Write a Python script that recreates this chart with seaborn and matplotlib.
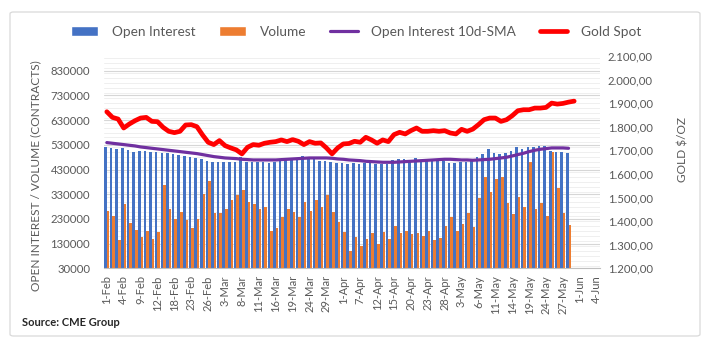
import numpy as np
import pandas as pd
import matplotlib
matplotlib.use("Agg")
import matplotlib.pyplot as plt
import seaborn as sns
from matplotlib.patches import Patch, FancyBboxPatch
from matplotlib.lines import Line2D
from matplotlib.ticker import FuncFormatter, FixedLocator, MultipleLocator

# ---------------- data ----------------
holidays = ["2021-02-15", "2021-04-02"]
dates = [d for d in pd.bdate_range("2021-02-01", "2021-06-04") if d.strftime("%Y-%m-%d") not in holidays]
categories = [f"{d.day}-{d.strftime('%b')}" for d in dates]          # 88 trading days
tick_labels = categories[::3]

open_interest = [
    523000, 516200, 512200, 516200, 508100, 502700, 505400, 504100, 502700, 500000, 498700,
    496000, 493300, 487900, 486500, 479800, 478400, 474300, 466200, 462200, 462200, 460800,
    460800, 462200, 479700, 462200, 460800, 460800, 459500, 458100, 460800, 474300, 474300,
    473000, 468900, 483800, 471600, 473000, 466200, 466200, 460800, 455400, 455400,
    454100, 455400, 452700, 455400, 455400, 452700, 452700, 452700, 470300, 471600, 471600,
    466200, 475700, 466200, 466200, 466200, 464900, 463500, 458100, 456800, 462200, 462200,
    464000, 482500, 491900, 512200, 496000, 493300, 498700, 506800, 523000, 514900, 520300,
    523000, 527000, 527000, 506800, 502700, 502700, 496000,
]
volume = [
    263600, 243300, 146100, 289300, 215000, 186600, 158200, 182500, 150100, 178500, 366300,
    269000, 231200, 259500, 227100, 194700, 231200, 329800, 385200, 252800, 252800,
    269000, 305500, 325700, 346000, 300100, 292000, 269000, 277100, 182500, 192000, 236600,
    271700, 256800, 236600, 297400, 263600, 305500, 277100, 325700, 256800, 216300, 175800,
    100800, 158200, 120400, 150100, 174400, 129800, 178500, 150100, 202800, 174400, 182500,
    170400, 174400, 162300, 182500, 146100, 154200, 202800, 239300, 182500, 210900, 255500,
    198700, 316300, 398700, 340600, 390600, 401400, 296000, 248700, 317600, 279800, 462200,
    271700, 293300, 243300, 502700, 356800, 252800, 204100,
]
oi_sma10 = [
    539200, 536500, 533800, 531100, 528400, 525700, 521600, 518900, 516200, 513500, 510800,
    508100, 505400, 502700, 500000, 497300, 494600, 490600, 486500, 482500, 479800, 477000,
    475700, 474300, 471600, 470300, 468900, 468900, 468900, 468900, 468900, 470300, 471600,
    473000, 474300, 475700, 477000, 477000, 477000, 477000, 475700, 473000, 471600, 468900,
    467600, 466200, 463500, 462200, 460800, 459500, 459500, 459500, 460800, 462200, 463500,
    464900, 466200, 467600, 468900, 470300, 471600, 471600, 470300, 468900, 468900,
    467600, 468900, 470300, 471600, 474300, 477000, 479800, 485200, 490600, 496000, 502700,
    508100, 512200, 514900, 517600, 517600, 517600, 516200,
]
gold_spot = [
    1863.7, 1839.8, 1832.8, 1794.8, 1811.7, 1825.7, 1837.0, 1839.8, 1822.9, 1821.5, 1797.6,
    1780.7, 1775.1, 1780.7, 1807.5, 1808.9, 1800.4, 1765.3, 1734.3, 1724.5, 1741.4, 1720.0,
    1710.4, 1702.0, 1685.1, 1713.2, 1724.5, 1721.7, 1730.1, 1734.3, 1737.1, 1744.2, 1737.1,
    1745.6, 1738.5, 1724.5, 1737.1, 1730.1, 1731.5, 1710.4, 1685.1, 1710.4, 1727.3, 1729.0,
    1738.5, 1734.3, 1755.4, 1744.2, 1730.1, 1744.2, 1737.1, 1766.7, 1776.5, 1769.5, 1783.5,
    1794.8, 1780.7, 1780.7, 1783.5, 1780.7, 1783.5, 1773.7, 1769.5, 1789.2, 1780.7,
    1790.0, 1808.9, 1830.0, 1837.0, 1837.0, 1822.9, 1830.0, 1846.9, 1868.0, 1872.2, 1872.2,
    1879.2, 1879.2, 1882.0, 1900.3, 1896.1, 1898.9, 1904.5, 1908.7,
]

left_ticks = list(range(30000, 830001, 100000))
right_ticks = list(range(1200, 2101, 100))

# ---------------- style ----------------
BLUE, ORANGE, PURPLE, RED = "#4472C4", "#ED7D31", "#7030A0", "#FF0000"
TXT = "#595959"
sns.set_theme(style="white")
plt.rcParams["font.family"] = ["Lato", "DejaVu Sans"]

fig = plt.figure(figsize=(7.10, 3.45), dpi=100)
ax = fig.add_axes([104 / 710, 1 - 268.3 / 345, (599.5 - 104) / 710, (268.3 - 56) / 345])

n = len(open_interest)
df = pd.DataFrame({
    "date": categories[:n] * 2,
    "value": open_interest + volume,
    "series": ["Open Interest"] * n + ["Volume"] * n,
})
sns.barplot(data=df, x="date", y="value", hue="series", order=categories,
            hue_order=["Open Interest", "Volume"], palette=[BLUE, ORANGE],
            width=0.92, saturation=1, linewidth=0, legend=False, ax=ax)
sns.lineplot(x=np.arange(len(oi_sma10)), y=oi_sma10, color=PURPLE, lw=2.3,
             ax=ax, solid_capstyle="round", solid_joinstyle="round")

ax.set_xlim(-0.5, len(categories) - 0.5)
ax.set_ylim(30000, 890000)
ax.yaxis.set_major_locator(FixedLocator(left_ticks))
ax.yaxis.set_minor_locator(MultipleLocator(20000))
ax.yaxis.grid(True, which="major", color="#d6d6d6", lw=0.8)
ax.yaxis.grid(True, which="minor", color="#efefef", lw=0.7)
ax.set_axisbelow(True)
ax.tick_params(axis="y", which="both", length=0, labelsize=8.2, labelcolor=TXT, pad=10)
ax.set_yticklabels([str(v) for v in left_ticks])

ax.set_xticks(range(0, len(categories), 3))
ax.set_xticklabels(tick_labels, rotation=90, fontsize=8, color=TXT)
ax.set_xticks(np.arange(-0.5, len(categories), 1), minor=True)
ax.tick_params(axis="x", which="major", length=0, pad=5)
ax.tick_params(axis="x", which="minor", length=3, color="#bfbfbf", width=0.7)
ax.set_xlabel("")
ax.set_ylabel("")
for s in ["left", "right", "top"]:
    ax.spines[s].set_visible(False)
ax.spines["bottom"].set_color("#bfbfbf")
ax.spines["bottom"].set_linewidth(0.8)

ax2 = ax.twinx()
sns.lineplot(x=np.arange(len(gold_spot)), y=gold_spot, color=RED, lw=3.4, ax=ax2,
             solid_capstyle="round", solid_joinstyle="round")
ax2.set_ylim(1200, 2100)
ax2.yaxis.set_major_locator(FixedLocator(right_ticks))
ax2.yaxis.set_major_formatter(FuncFormatter(
    lambda v, p: f"{v:,.2f}".replace(",", "X").replace(".", ",").replace("X", ".")))
ax2.tick_params(axis="y", length=0, labelsize=8.2, labelcolor=TXT, pad=6)
ax2.set_ylabel("")
for s in ["left", "right", "top", "bottom"]:
    ax2.spines[s].set_visible(False)
ax2.grid(False)

fig.text(36 / 710, 1 - 176 / 345, "OPEN INTEREST / VOLUME (CONTRACTS)", rotation=90,
         ha="center", va="center", fontsize=8.6, color=TXT)
fig.text(683 / 710, 1 - 150 / 345, "GOLD $/OZ", rotation=90,
         ha="center", va="center", fontsize=8.6, color=TXT)

handles = [Patch(facecolor=BLUE), Patch(facecolor=ORANGE),
           Line2D([], [], color=PURPLE, lw=2.3), Line2D([], [], color=RED, lw=3.4)]
labels = ["Open Interest", "Volume", "Open Interest 10d-SMA", "Gold Spot"]
fig.legend(handles, labels, loc="center", bbox_to_anchor=(356 / 710, 1 - 32 / 345),
           ncol=4, frameon=False, fontsize=9.8, handlelength=2.0, handleheight=0.75,
           columnspacing=1.75, handletextpad=1.0, labelcolor=TXT)

fig.text(22 / 710, 1 - 322 / 345, "Source: CME Group", ha="left", va="center",
         fontsize=8.0, fontweight="bold", color="#262626")

border = FancyBboxPatch((10 / 710, 1 - 336 / 345), 690 / 710, 324 / 345,
                        boxstyle="round,pad=0,rounding_size=0.005",
                        transform=fig.transFigure, fill=False, edgecolor="#d9d9d9", lw=0.9)
fig.patches.append(border)

fig.savefig("out.png", dpi=100)
